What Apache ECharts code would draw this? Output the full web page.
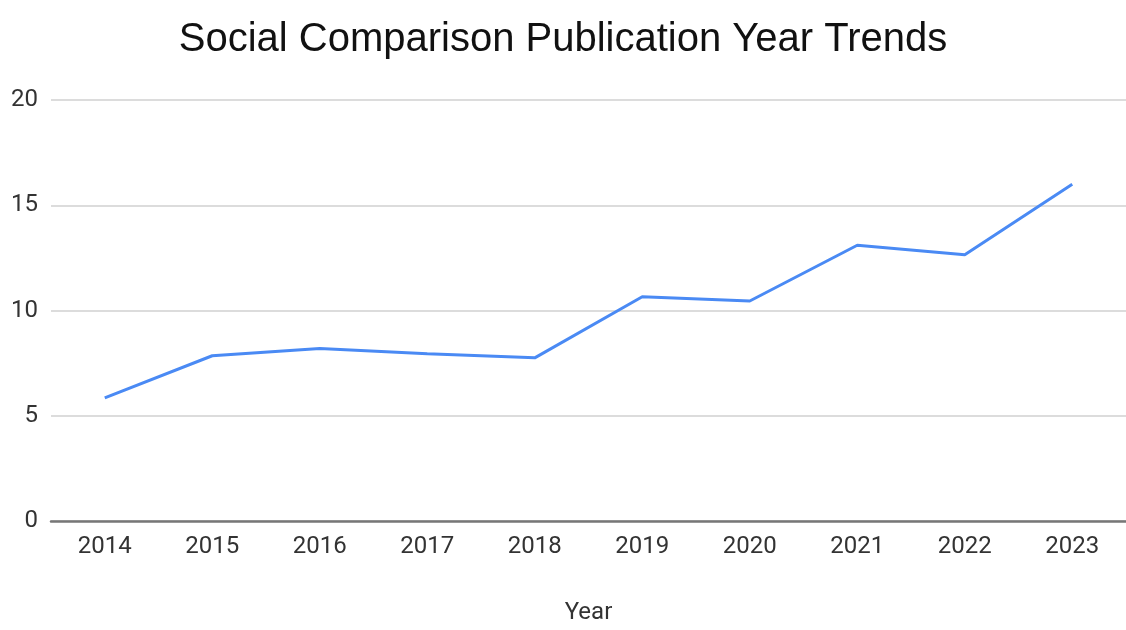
<!DOCTYPE html>
<html>
<head>
<meta charset="utf-8">
<style>
  html, body { margin: 0; padding: 0; background: #fff; }
  #chart { width: 1126px; height: 630px; }
</style>
<script src="https://cdn.jsdelivr.net/npm/echarts@6/dist/echarts.min.js"></script>
</head>
<body>
<div id="chart"></div>
<script>
// Publications per year on social comparison
const years = ['2014', '2015', '2016', '2017', '2018', '2019', '2020', '2021', '2022', '2023'];
const publications = [5.85, 7.85, 8.2, 7.95, 7.75, 10.65, 10.45, 13.1, 12.65, 16];
const yTicks = { min: 0, max: 20, interval: 5 };

const chart = echarts.init(document.getElementById('chart'), null, { renderer: 'canvas' });

chart.setOption({
  animation: false,
  backgroundColor: '#ffffff',
  title: {
    text: 'Social Comparison Publication Year Trends',
    left: 'center',
    top: 15,
    padding: [5, 0, 5, 20],
    textStyle: {
      fontFamily: 'Liberation Sans, Arial, sans-serif',
      fontSize: 40,
      fontWeight: 'normal',
      color: '#111'
    }
  },
  grid: {
    left: 51,
    top: 100,
    width: 1084,
    height: 430,
    containLabel: false
  },
  xAxis: {
    type: 'category',
    data: years,
    boundaryGap: true,
    name: 'Year',
    nameLocation: 'middle',
    nameGap: 80,
    nameTextStyle: {
      fontFamily: 'Roboto, sans-serif',
      fontSize: 24,
      color: '#333'
    },
    axisLine: { show: true, lineStyle: { color: '#777', width: 2.5 } },
    axisTick: { show: false },
    axisLabel: {
      margin: 14,
      fontFamily: 'Roboto, sans-serif',
      fontSize: 24,
      color: '#333'
    },
    splitLine: { show: false }
  },
  yAxis: {
    type: 'value',
    min: yTicks.min,
    max: yTicks.max,
    interval: yTicks.interval,
    axisLine: { show: false },
    axisTick: { show: false },
    axisLabel: {
      margin: 13,
      fontFamily: 'Roboto, sans-serif',
      fontSize: 24,
      color: '#333'
    },
    splitLine: { show: true, lineStyle: { color: '#dcdcdc', width: 2 } }
  },
  series: [{
    type: 'line',
    data: publications,
    symbol: 'none',
    lineStyle: { color: '#4a8af4', width: 3 },
    itemStyle: { color: '#4a8af4' }
  }]
});
</script>
</body>
</html>
